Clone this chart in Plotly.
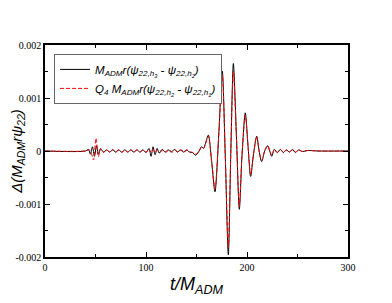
import plotly.graph_objects as go

# ---- data (values in units of 1e-3) ----
t_black = [0, 40, 43, 45, 47, 49, 51, 53, 55, 58, 61, 64, 67, 70, 73, 76, 79, 82, 85, 88, 91, 94, 97,
           100, 103, 105, 107, 109, 111, 113, 116, 119, 122, 125, 128, 131, 134, 137, 140, 143, 146,
           149, 152, 155, 157, 159, 161.7, 165, 168.3, 172, 175.5, 178.5, 181.5, 184, 186.5, 189.5,
           192.4, 195, 198.3, 201, 203.6, 206.5, 209.6, 212, 214.5, 217.5, 220.5, 222.5, 224.5, 227,
           230, 233, 236, 239, 242, 245, 248, 251, 255, 260, 270, 300]
v_black = [0, 0, 0.03, -0.06, 0.08, -0.1, 0.1, -0.06, 0.04, -0.02, 0.02, -0.02, 0.02, -0.02, 0.02, -0.02,
           0.02, -0.02, 0.02, -0.02, 0.02, -0.02, 0.02,
           -0.03, 0.05, -0.1, 0.08, -0.07, 0.05, -0.04, 0.03, -0.02, 0.02, -0.02, 0.03, -0.02, 0.02,
           -0.02, 0.02, -0.02, -0.03,
           -0.08, -0.02, 0.08, 0.05, 0.15, 0.30, -0.2, -0.77, 0.3, 1.51, -0.1, -1.96, 0.0, 1.65, 0.3,
           -1.1, -0.1, 0.72, 0.1, -0.48, -0.05, 0.28, 0.0, -0.2, 0.0, 0.1, 0.0, -0.1, 0.03,
           -0.03, 0.03, -0.03, 0.02, -0.02, 0.03, -0.03, 0.02, -0.01, 0.01, 0, 0]

t_red = [0, 40, 44, 46, 48, 50.5, 52.8, 55, 58, 61, 64, 67, 70, 73, 76, 79, 82, 85, 88, 91, 94, 97,
         100, 103, 105, 107, 109, 111, 114, 117, 120, 123, 126, 129, 132, 135, 138, 141, 144, 147,
         149, 152, 155, 157, 159, 161.7, 165, 168.3, 172, 175.5, 178.5, 181.5, 184, 186.5, 189.5,
         192.4, 195, 198.3, 201, 203.6, 206.5, 209.6, 212, 214.5, 217.5, 220.5, 222.5, 224.5, 227,
         230, 233, 236, 239, 242, 245, 248, 251, 255, 260, 270, 300]
v_red = [0, 0, 0.02, -0.05, -0.17, 0.24, -0.11, 0.05, -0.03, 0.02, -0.02, 0.03, -0.02, 0.02, -0.03,
         0.02, -0.02, 0.02, -0.02, 0.02, -0.02, 0.02,
         -0.02, 0.03, -0.03, 0.03, -0.03, 0.02, -0.02, 0.02, -0.02, 0.02, -0.02, 0.02, -0.02, 0.02,
         -0.02, 0.02, -0.02, -0.03,
         -0.06, -0.02, 0.07, 0.05, 0.14, 0.28, -0.19, -0.72, 0.28, 1.45, -0.1, -1.82, 0.0, 1.5, 0.28,
         -1.05, -0.1, 0.68, 0.1, -0.45, -0.05, 0.27, 0.0, -0.18, 0.0, 0.1, 0.0, -0.08, 0.03,
         -0.03, 0.03, -0.02, 0.02, -0.02, 0.02, -0.02, 0.02, -0.01, 0.01, 0, 0]

x_tickvals = [0, 100, 200, 300]
x_ticklabels = ["0", "100", "200", "300"]
y_tickvals = [-0.002, -0.001, 0, 0.001, 0.002]
y_ticklabels = ["-0.002", "-0.001", "0", "0.001", "0.002"]

name_black = "<i>M<sub>ADM</sub>r(ψ<sub>22,h<sub>3</sub></sub> - ψ<sub>22,h<sub>2</sub></sub>)</i>"
name_red = "<i>Q<sub>4</sub> M<sub>ADM</sub>r(ψ<sub>22,h<sub>2</sub></sub> - ψ<sub>22,h<sub>1</sub></sub>)</i>"

fig = go.Figure()
fig.add_trace(go.Scatter(x=t_black, y=[v * 1e-3 for v in v_black], mode="lines",
                         line=dict(color="black", width=1, shape="spline", smoothing=0.8),
                         name=name_black))
fig.add_trace(go.Scatter(x=t_red, y=[v * 1e-3 for v in v_red], mode="lines",
                         line=dict(color="#ff0000", width=1, dash="4px,2px", shape="spline", smoothing=0.8),
                         name=name_red))

axis_common = dict(showline=True, linecolor="black", linewidth=1.5, mirror="ticks",
                   ticks="inside", ticklen=5, tickwidth=1.2, tickcolor="black",
                   showgrid=False, zeroline=False, automargin=False,
                   tickfont=dict(family="Liberation Serif", size=10, color="black"))

fig.update_xaxes(range=[0, 300], tickmode="array", tickvals=x_tickvals, ticktext=x_ticklabels,
                 minor=dict(dtick=50, ticks="inside", ticklen=3, tickcolor="black"),
                 ticklabelstandoff=0,
                 title=dict(text="<i>t/M<sub>ADM</sub></i>", font=dict(family="Liberation Sans", size=18, color="black"),
                            standoff=6),
                 **axis_common)
fig.update_yaxes(range=[-0.002, 0.002], tickmode="array", tickvals=y_tickvals, ticktext=y_ticklabels,
                 minor=dict(dtick=0.0005, ticks="inside", ticklen=3, tickcolor="black"),
                 ticklabelstandoff=0,
                 title=dict(text="<i>Δ(M<sub>ADM</sub>rψ<sub>22</sub>)</i>", font=dict(family="Liberation Sans", size=15, color="black"),
                            standoff=0),
                 **axis_common)

# page body adds an 8px offset, so the figure is sized/margined to compensate
fig.update_layout(
    width=384, height=295,
    margin=dict(l=37, r=44, t=37, b=46),
    paper_bgcolor="white", plot_bgcolor="white",
    showlegend=True,
    legend=dict(x=0.03, y=0.958, xanchor="left", yanchor="top",
                bgcolor="white", bordercolor="#666666", borderwidth=1,
                font=dict(family="Liberation Sans", size=11.5, color="black"),
                itemwidth=30, tracegroupgap=0),
)

fig.write_html("out.html")
